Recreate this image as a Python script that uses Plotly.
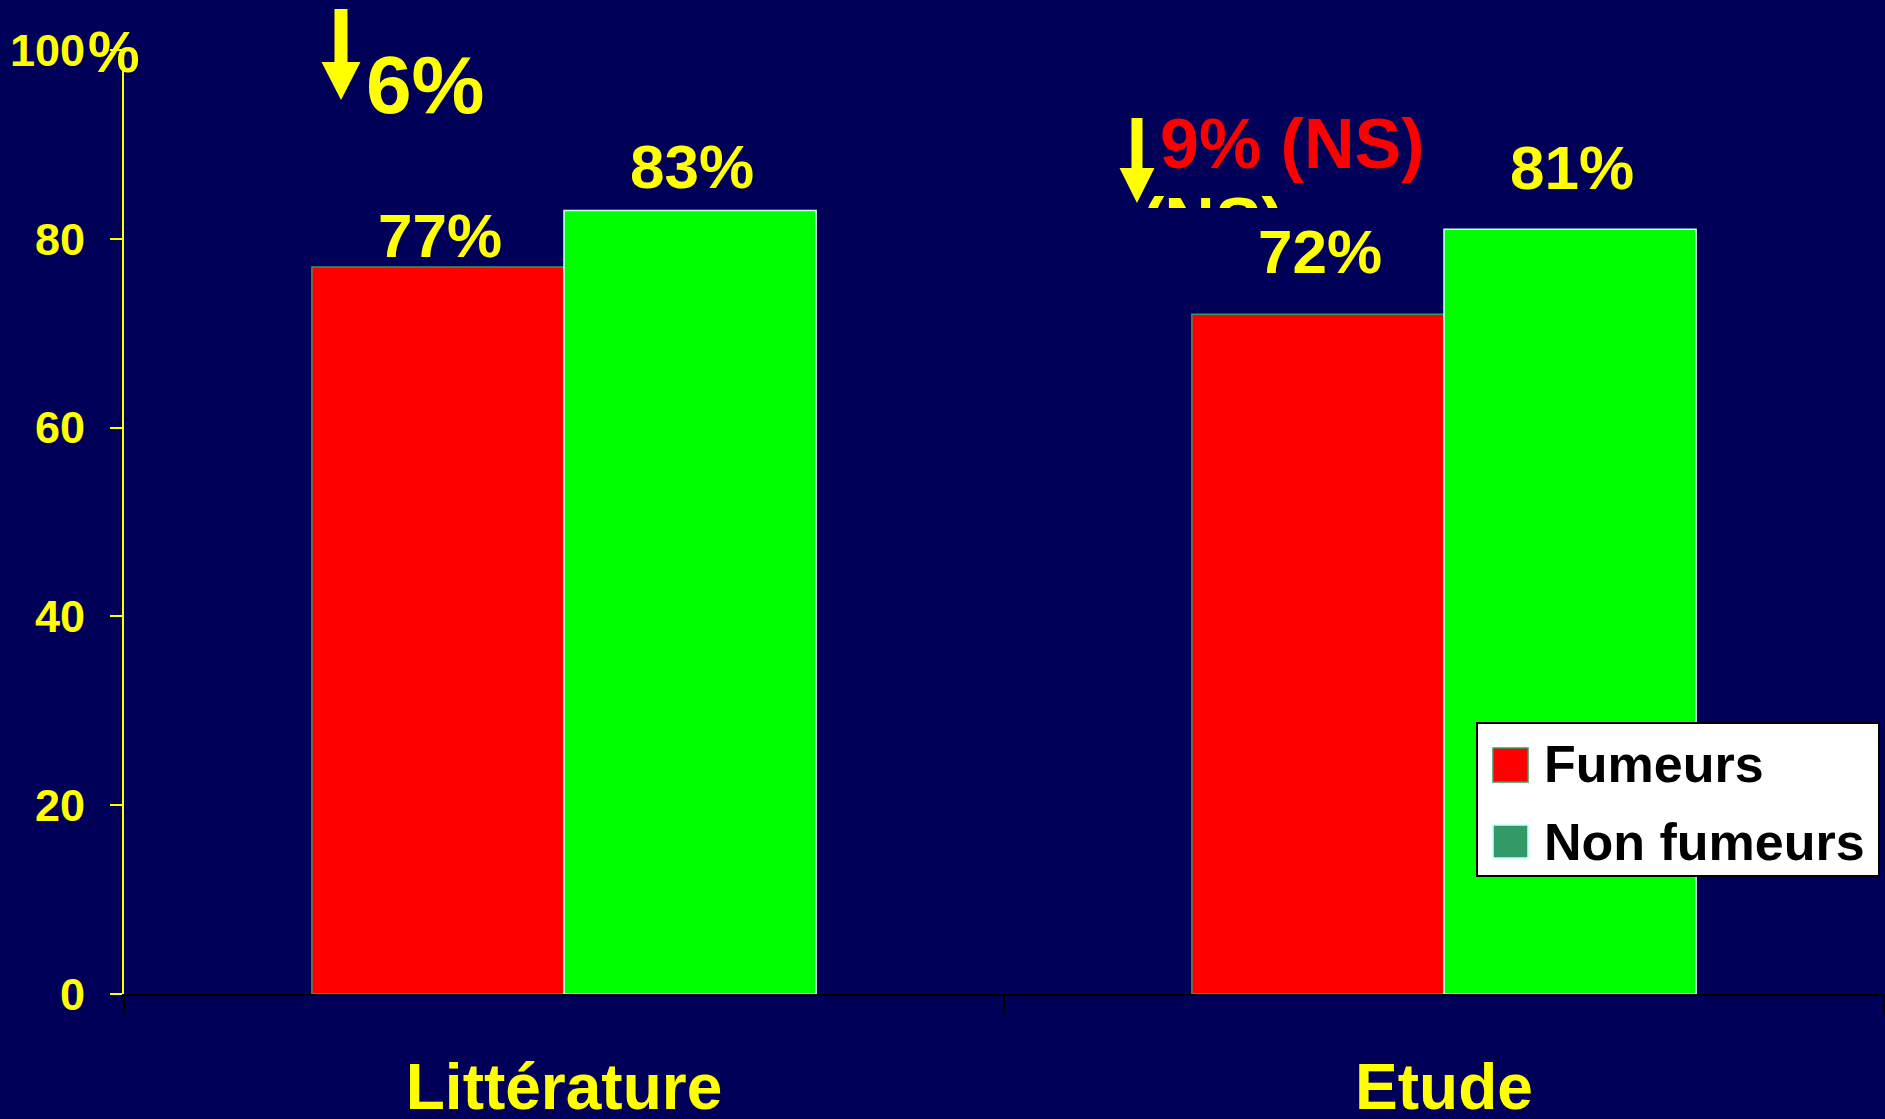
import plotly.graph_objects as go

# ---- data ----
categories = ["Littérature", "Etude"]
fumeurs = [77, 72]
non_fumeurs = [83, 81]
y_tick_values = [0, 20, 40, 60, 80, 100]
y_tick_labels = ["0", "20", "40", "60", "80", "100"]
legend_labels = ["Fumeurs", "Non fumeurs"]

# ---- page geometry (pixels) ----
W, H = 1885, 1119
L, R, T, B = 124, 1, 50, 125
PLOT_W = W - L - R
PLOT_H = H - T - B
BASE_Y = H - B

FONT = "Liberation Sans"
NAVY = "#000058"
YELLOW = "#FFFF00"
RED = "#FF0000"
GREEN = "#00FF00"
SEA = "#339966"

# value labels: horizontal shift from group centre and lift above each bar top (px)
BAR_SHIFT = 126
LIFT_FUMEURS = [32, 63]
LIFT_NON_FUMEURS = [44, 62]


def px(x):
    """pixel x -> paper x"""
    return (x - L) / PLOT_W


def py(y):
    """pixel y (from top) -> paper y"""
    return (BASE_Y - y) / PLOT_H


fig = go.Figure()

fig.add_trace(go.Bar(
    name=legend_labels[0], x=categories, y=fumeurs,
    marker=dict(color=RED, line=dict(color=SEA, width=1.5)),
    showlegend=False, hoverinfo="x+y",
))
fig.add_trace(go.Bar(
    name=legend_labels[1], x=categories, y=non_fumeurs,
    marker=dict(color=GREEN, line=dict(color="#CCFFFF", width=1.5)),
    showlegend=False, hoverinfo="x+y",
))

# yellow "(NS)" mostly hidden behind the upper band (clipped by its own subplot)
clip_bottom = py(208)
fig.add_trace(go.Scatter(
    x=[px(1213)], y=[py(229)], mode="text", text=["(NS)"],
    textposition="middle center",
    textfont=dict(family=FONT, size=70, color=YELLOW, weight="bold"),
    xaxis="x2", yaxis="y2", cliponaxis=True, showlegend=False, hoverinfo="skip",
))


def arrow_path(cx, top, head_start, tip, shaft_half, head_half):
    pts = [
        (cx - shaft_half, top), (cx + shaft_half, top),
        (cx + shaft_half, head_start), (cx + head_half, head_start),
        (cx, tip), (cx - head_half, head_start),
        (cx - shaft_half, head_start),
    ]
    return "M" + " L".join(f"{px(x):.5f},{py(y):.5f}" for x, y in pts) + " Z"


shapes = [
    dict(type="path", xref="paper", yref="paper",
         path=arrow_path(341, 9, 62, 100, 6.5, 19.5),
         fillcolor=YELLOW, line=dict(width=0)),
    dict(type="path", xref="paper", yref="paper",
         path=arrow_path(1137, 118, 168, 203, 5.5, 17.5),
         fillcolor=YELLOW, line=dict(width=0)),
    # legend box
    dict(type="rect", xref="paper", yref="paper", layer="above",
         x0=px(1477), x1=px(1879), y0=py(876), y1=py(723),
         fillcolor="white", line=dict(color="black", width=2)),
    dict(type="rect", xref="paper", yref="paper", layer="above",
         x0=px(1493), x1=px(1528), y0=py(782), y1=py(748),
         fillcolor=RED, line=dict(color=SEA, width=1.5)),
    dict(type="rect", xref="paper", yref="paper", layer="above",
         x0=px(1493), x1=px(1528), y0=py(858), y1=py(825),
         fillcolor=SEA, line=dict(color="#CCFFFF", width=1.5)),
]

value_font = dict(family=FONT, size=62, color=YELLOW, weight="bold")
annotations = []
for cat, v, lift in zip(categories, fumeurs, LIFT_FUMEURS):
    annotations.append(dict(
        text=f"{v}%", x=cat, y=v, xref="x", yref="y", showarrow=False,
        xanchor="center", yanchor="middle", xshift=-BAR_SHIFT + 2, yshift=lift,
        font=value_font))
for cat, v, lift in zip(categories, non_fumeurs, LIFT_NON_FUMEURS):
    annotations.append(dict(
        text=f"{v}%", x=cat, y=v, xref="x", yref="y", showarrow=False,
        xanchor="center", yanchor="middle", xshift=BAR_SHIFT + 2, yshift=lift,
        font=value_font))

annotations += [
    dict(text="%", x=px(114), y=py(52), xref="paper", yref="paper",
         showarrow=False, xanchor="center", yanchor="middle",
         font=dict(family=FONT, size=58, color=YELLOW, weight="bold")),
    dict(text="6%", x=px(425), y=py(84), xref="paper", yref="paper",
         showarrow=False, xanchor="center", yanchor="middle",
         font=dict(family=FONT, size=82, color=YELLOW, weight="bold")),
    dict(text="9% (NS)", x=px(1292), y=py(144), xref="paper", yref="paper",
         showarrow=False, xanchor="center", yanchor="middle",
         font=dict(family=FONT, size=70, color=RED, weight="bold")),
    dict(text=legend_labels[0], x=px(1542), y=py(764), xref="paper", yref="paper",
         showarrow=False, xanchor="left", yanchor="middle",
         font=dict(family=FONT, size=52, color="black", weight="bold")),
    dict(text=legend_labels[1], x=px(1542), y=py(842), xref="paper", yref="paper",
         showarrow=False, xanchor="left", yanchor="middle",
         font=dict(family=FONT, size=52, color="black", weight="bold")),
]

fig.update_layout(
    width=W, height=H,
    margin=dict(l=L, r=R, t=T, b=B, pad=0, autoexpand=False),
    paper_bgcolor=NAVY, plot_bgcolor="rgba(0,0,0,0)",
    barmode="group", bargap=0.427, bargroupgap=0,
    showlegend=False,
    shapes=shapes, annotations=annotations,
    xaxis=dict(
        domain=[0, 1], showgrid=False, zeroline=False, automargin=False,
        showline=True, linecolor="black", linewidth=2,
        ticks="outside", tickson="boundaries", ticklen=20, tickwidth=2,
        tickcolor="black", ticklabelstandoff=36,
        tickfont=dict(family=FONT, size=64, color=YELLOW, weight="bold"),
    ),
    yaxis=dict(
        domain=[0, 1], range=[0, 100], showgrid=False, zeroline=False,
        automargin=False,
        showline=True, linecolor=YELLOW, linewidth=2,
        tickvals=y_tick_values, ticktext=y_tick_labels,
        ticks="outside", ticklen=12, tickwidth=2, tickcolor=YELLOW,
        ticklabelstandoff=16,
        tickfont=dict(family=FONT, size=45, color=YELLOW, weight="bold"),
    ),
    xaxis2=dict(domain=[0, 1], range=[0, 1], anchor="y2", visible=False),
    yaxis2=dict(domain=[clip_bottom, 1], range=[clip_bottom, 1],
                anchor="x2", visible=False),
)

fig.write_html("out.html")
